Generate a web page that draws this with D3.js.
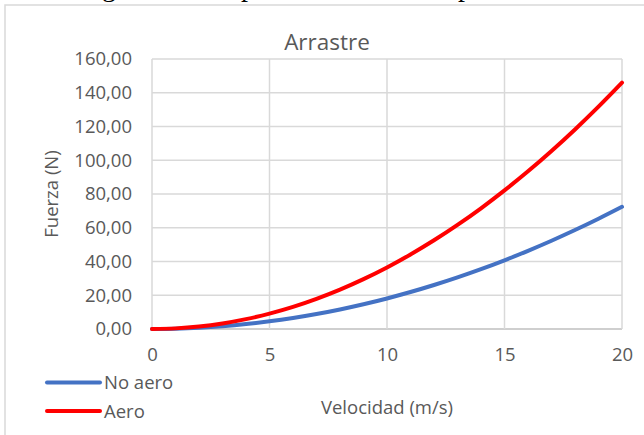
<!DOCTYPE html>
<html>
<head>
<meta charset="utf-8">
<script src="https://cdn.jsdelivr.net/npm/d3@7"></script>
<style>
  body { margin: 0; background: #fff; }
  svg text { font-family: "Open Sans", sans-serif; fill: #595959; }
</style>
</head>
<body>
<div id="chart"></div>
<script>
// velocidad (m/s)
var velocidad = [0, 1, 2, 3, 4, 5, 6, 7, 8, 9, 10, 11, 12, 13, 14, 15, 16, 17, 18, 19, 20];
// fuerza de arrastre (N)
var noAero = [0, 0.18, 0.72, 1.63, 2.90, 4.53, 6.52, 8.87, 11.58, 14.66, 18.10, 21.90, 26.06, 30.59, 35.48, 40.73, 46.34, 52.31, 58.64, 65.34, 72.40];
var aero = [0, 0.37, 1.46, 3.29, 5.84, 9.13, 13.14, 17.89, 23.36, 29.57, 36.50, 44.17, 52.56, 61.69, 71.54, 82.13, 93.44, 105.49, 118.26, 131.77, 146.00];
var xTicks = [0, 5, 10, 15, 20];
var yTicks = [0, 20, 40, 60, 80, 100, 120, 140, 160];
var series = [
    { name: "No aero", values: noAero, color: "#4472c4" },
    { name: "Aero", values: aero, color: "#ff0000" }
];

var width = 644, height = 435;
var svg = d3.select("#chart").append("svg")
    .attr("width", width)
    .attr("height", height);

// restos del pie de figura del documento (cortado arriba)
var cap = svg.append("g");
[["g", 102], ["p", 241], ["p", 458]].forEach(function (c) {
    cap.append("text")
        .attr("x", c[1]).attr("y", -4)
        .style("fill", "#000")
        .style("font-family", "'Liberation Serif', serif")
        .style("font-size", "28px")
        .text(c[0]);
});

// marco del grafico
svg.append("rect")
    .attr("x", 5).attr("y", 5)
    .attr("width", 700).attr("height", 500)
    .attr("fill", "none")
    .attr("stroke", "#d9d9d9")
    .attr("stroke-width", 1.5);

var x = d3.scaleLinear().domain([0, 20]).range([152, 622]);
var y = d3.scaleLinear().domain([0, 160]).range([329, 59]);

// rejilla
svg.append("g").selectAll("line.h")
    .data(yTicks)
    .enter()
    .append("line")
    .attr("x1", x(0)).attr("x2", x(20))
    .attr("y1", function (d) { return y(d); })
    .attr("y2", function (d) { return y(d); })
    .attr("stroke", function (d) { return d == 0 ? "#bfbfbf" : "#d9d9d9"; })
    .attr("stroke-width", 1.5);

svg.append("g").selectAll("line.v")
    .data(xTicks)
    .enter()
    .append("line")
    .attr("x1", function (d) { return x(d); })
    .attr("x2", function (d) { return x(d); })
    .attr("y1", y(160)).attr("y2", y(0))
    .attr("stroke", "#d9d9d9")
    .attr("stroke-width", 1.5);

// ejes
var fmt = function (d) { return d3.format(".2f")(d).replace(".", ","); };
var yAxis = svg.append("g")
    .attr("transform", "translate(" + x(0) + ",0)")
    .call(d3.axisLeft(y).tickValues(yTicks).tickFormat(fmt).tickSize(0).tickPadding(20));
yAxis.select(".domain").remove();
yAxis.selectAll("text").style("font-size", "18.5px").style("fill", "#595959").style("font-family", "'Open Sans', sans-serif");

var xAxis = svg.append("g")
    .attr("transform", "translate(0," + y(0) + ")")
    .call(d3.axisBottom(x).tickValues(xTicks).tickSize(0).tickPadding(19));
xAxis.select(".domain").remove();
xAxis.selectAll("text").style("font-size", "18.5px").style("fill", "#595959").style("font-family", "'Open Sans', sans-serif");

// lineas
var line = d3.line()
    .x(function (d, i) { return x(velocidad[i]); })
    .y(function (d) { return y(d); })
    .curve(d3.curveMonotoneX);

svg.selectAll(".serie")
    .data(series)
    .enter()
    .append("path")
    .attr("class", "serie")
    .attr("d", function (d) { return line(d.values); })
    .attr("fill", "none")
    .attr("stroke", function (d) { return d.color; })
    .attr("stroke-width", 4)
    .attr("stroke-linecap", "round");

// titulos
svg.append("text")
    .attr("x", 327).attr("y", 50)
    .attr("text-anchor", "middle")
    .style("font-size", "22.5px")
    .text("Arrastre");

svg.append("text")
    .attr("transform", "translate(58,194) rotate(-90)")
    .attr("text-anchor", "middle")
    .style("font-size", "18.5px")
    .text("Fuerza (N)");

svg.append("text")
    .attr("x", 387).attr("y", 414)
    .attr("text-anchor", "middle")
    .style("font-size", "18.5px")
    .text("Velocidad (m/s)");

// leyenda
var legend = svg.selectAll(".leg")
    .data(series)
    .enter()
    .append("g")
    .attr("class", "leg")
    .attr("transform", function (d, i) { return "translate(0," + (382.5 + i * 28.5) + ")"; });

legend.append("line")
    .attr("x1", 47).attr("x2", 100)
    .attr("y1", 0).attr("y2", 0)
    .attr("stroke", function (d) { return d.color; })
    .attr("stroke-width", 4)
    .attr("stroke-linecap", "round");

legend.append("text")
    .attr("x", 104).attr("y", 6.5)
    .style("font-size", "18.5px")
    .text(function (d) { return d.name; });
</script>
</body>
</html>
